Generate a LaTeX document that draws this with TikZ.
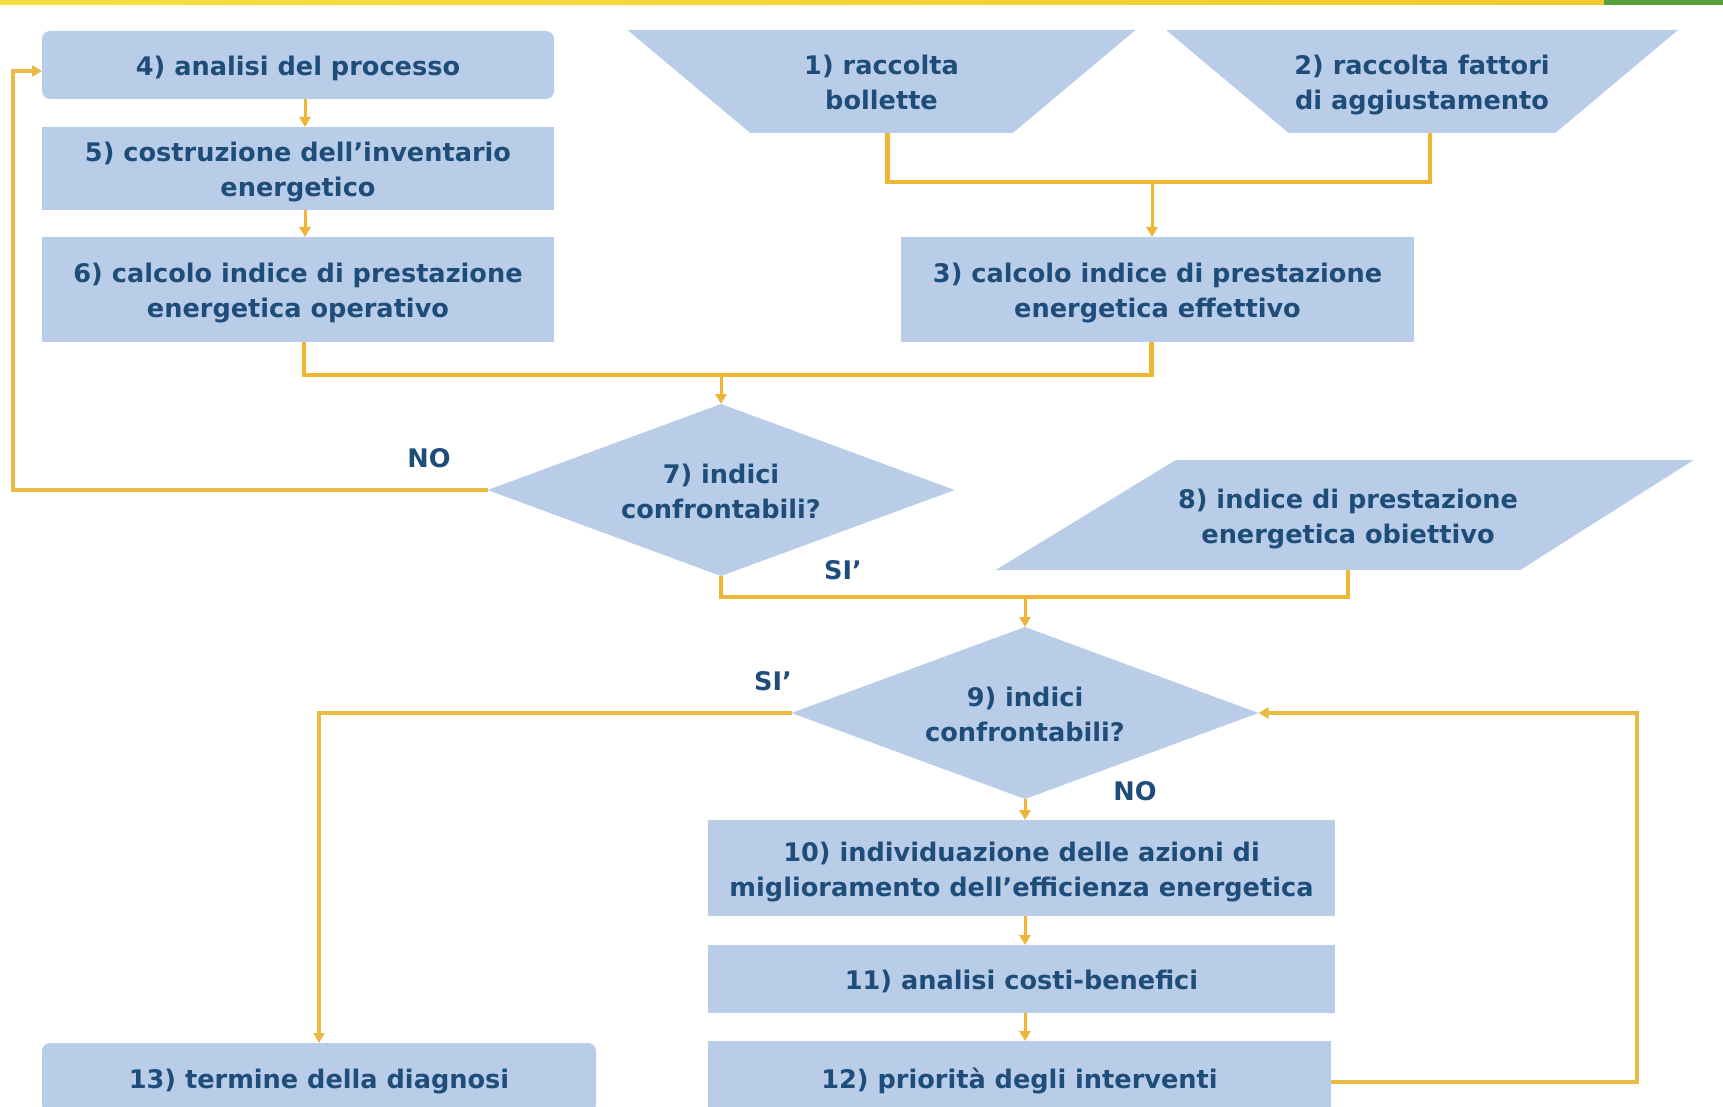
\documentclass[tikz,border=0pt]{standalone}
\usepackage{fontspec}
\setmainfont{DejaVu Sans}
\usetikzlibrary{shapes.geometric,arrows.meta}
\definecolor{boxfill}{RGB}{185,205,233}
\definecolor{txt}{RGB}{31,77,122}
\definecolor{ln}{RGB}{238,182,52}
\definecolor{lnl}{RGB}{234,186,66}
\definecolor{baryelA}{RGB}{247,222,66}
\definecolor{baryelB}{RGB}{242,200,48}
\definecolor{bargrn}{RGB}{86,160,60}
\newcommand\ts{\rule[-3.2pt]{0pt}{17.2pt}}
\begin{document}
\begin{tikzpicture}[x=0.5pt,y=-0.5pt,
  every node/.style={font=\bfseries\fontsize{12.8}{17.5}\selectfont, text=txt, align=center, inner sep=0pt, outer sep=0pt},
  box/.style={fill=boxfill, rectangle, anchor=north west},
  rbox/.style={box, rounded corners=4pt},
  trap/.style={fill=boxfill, trapezium, trapezium angle=40, shape border rotate=180, trapezium stretches body=true, inner ysep=8.4pt, minimum height=51.5pt},
  dia/.style={fill=boxfill, diamond, aspect=2.7, minimum width=233.5pt, minimum height=86pt},
  para/.style={fill=boxfill, trapezium, trapezium left angle=31.4, trapezium right angle=147.6, trapezium stretches body=true, inner ysep=10.15pt, minimum width=349pt, minimum height=55pt},
  lbl/.style={},
  thk/.style={draw=ln, line width=2.35pt},
  thn/.style={draw=ln, line width=1.5pt},
  loop/.style={draw=lnl, line width=1.75pt},
  arr/.style={-{Triangle[width=5.5pt,length=5pt]}}
]
\useasboundingbox (0,0) rectangle (1723,1107);
\clip (0,0) rectangle (1723,1107);
\fill[white] (0,0) rectangle (1723,1107);
% top bar
\shade[left color=baryelA, right color=baryelB] (0,0) rectangle (1604,5);
\fill[bargrn] (1604,0) rectangle (1723,5);

% nodes
\node[rbox, minimum width=256pt, minimum height=34pt] (n4) at (42,31) {\ts 4) analisi del processo};
\node[box, minimum width=256pt, minimum height=41.5pt] (n5) at (42,127) {\ts 5) costruzione dell’inventario\\\ts energetico};
\node[box, minimum width=256pt, minimum height=52.5pt] (n6) at (42,237) {\ts 6) calcolo indice di prestazione\\\ts energetica operativo};
\node[trap, minimum width=254pt] (n1) at (881.5,81.5) {\ts 1) raccolta\\\ts bollette};
\node[trap, minimum width=256pt] (n2) at (1422,81.5) {\ts 2) raccolta fattori\\\ts di aggiustamento};
\node[box, minimum width=256.5pt, minimum height=52.5pt] (n3) at (901,237) {\ts 3) calcolo indice di prestazione\\\ts energetica effettivo};
\node[dia] (n7) at (721,490) {\ts 7) indici\\\ts confrontabili?};
\node[para] (n8) at (1348,515) {\ts 8) indice di prestazione\\\ts energetica obiettivo};
\node[dia] (n9) at (1025,713) {\ts 9) indici\\\ts confrontabili?};
\node[box, minimum width=313.5pt, minimum height=48pt] (n10) at (708,820) {\ts 10) individuazione delle azioni di\\\ts miglioramento dell’efficienza energetica};
\node[box, minimum width=313.5pt, minimum height=34pt] (n11) at (708,945) {\ts 11) analisi costi-benefici};
\node[box, minimum width=311.5pt, minimum height=37pt] (n12) at (708,1041) {\ts 12) priorità degli interventi};
\node[rbox, minimum width=277pt, minimum height=35pt] (n13) at (42,1043) {\ts 13) termine della diagnosi};

% labels
\node[lbl] (l1) at (429,458) {NO};
\node[lbl] (l2) at (843,570) {SI’};
\node[lbl] (l3) at (773,681) {SI’};
\node[lbl] (l4) at (1135,791) {NO};

% junctions
\coordinate (j1) at (1152,182);
\coordinate (j2) at (721,375);
\coordinate (j3) at (1025,597);
\coordinate (c1) at (13,490);
\coordinate (c2) at (1637,713);

% connectors
\draw[thn,arr] ([xshift=3.5pt]n4.south) -- ([xshift=3.5pt]n5.north);
\draw[thn,arr] ([xshift=3.5pt]n5.south) -- ([xshift=3.5pt]n6.north);
\draw[thk] ([xshift=3pt]n1.south) |- (j1) -| ([xshift=4pt]n2.south);
\draw[thn,arr] (j1) -- (j1 |- n3.north);
\draw[thk] ([xshift=3pt]n6.south) |- (j2) -| ([xshift=-3pt]n3.south);
\draw[thn,arr] (j2) -- (j2 |- n7.north);
\draw[loop,arr] (n7.west) -- (c1) |- ([yshift=-3pt]n4.west);
\draw[thk] (n7.south) |- (j3) -| (n8.center |- n8.south);
\draw[thn,arr] (j3) -- (j3 |- n9.north);
\draw[loop,arr] (n9.west) -| (n13.north);
\draw[thn,arr] (n9.south) -- (n9.south |- n10.north);
\draw[thn,arr] (n10.south -| n9.south) -- (n11.north -| n9.south);
\draw[thn,arr] (n11.south -| n9.south) -- (n12.north -| n9.south);
\draw[loop,arr] ([yshift=-2pt]n12.east) -| (c2) -- (n9.east);
\end{tikzpicture}
\end{document}
